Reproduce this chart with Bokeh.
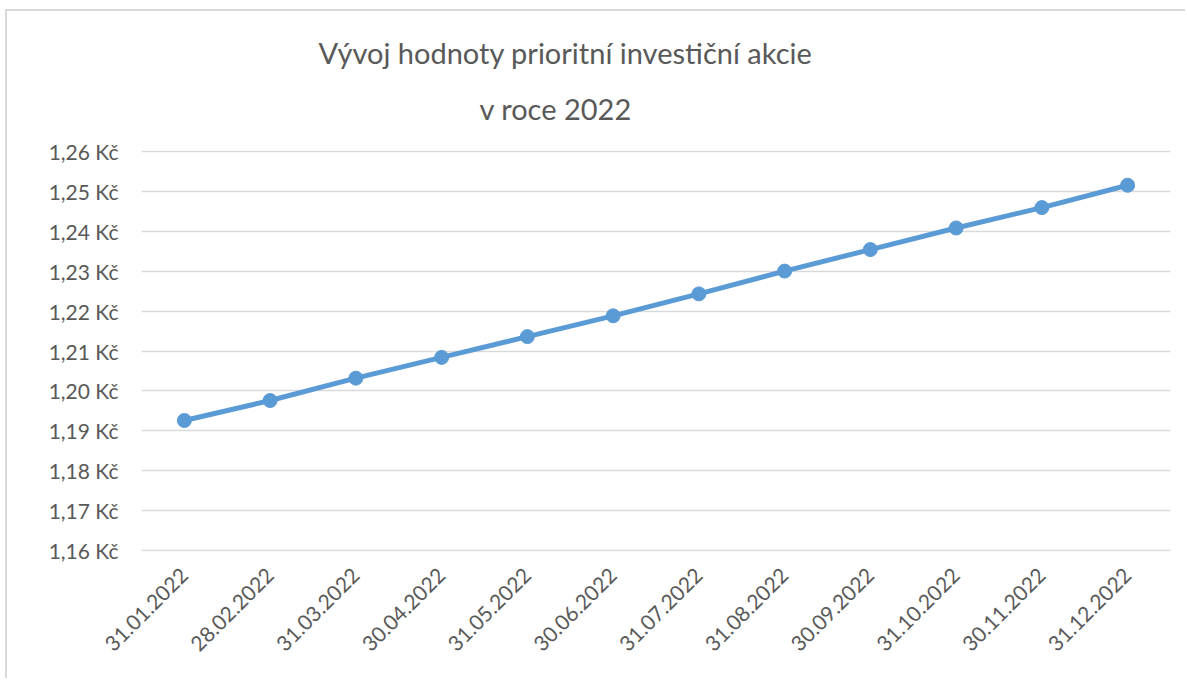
from bokeh.plotting import figure
from bokeh.models import FixedTicker, CustomJSTickFormatter, Title, ColumnDataSource
from bokeh.embed import file_html
from bokeh.resources import INLINE
import math

dates = ["31.01.2022", "28.02.2022", "31.03.2022", "30.04.2022", "31.05.2022", "30.06.2022",
         "31.07.2022", "31.08.2022", "30.09.2022", "31.10.2022", "30.11.2022", "31.12.2022"]
prices = [1.1926, 1.1976, 1.2032, 1.2084, 1.2136, 1.2188,
          1.2243, 1.2300, 1.2354, 1.2408, 1.2459, 1.2515]
y_ticks = [1.16, 1.17, 1.18, 1.19, 1.20, 1.21, 1.22, 1.23, 1.24, 1.25, 1.26]
title_lines = ["Vývoj hodnoty prioritní investiční akcie", "v roce 2022"]

FONT = "Lato"
GREY = "#595959"

src = ColumnDataSource(dict(x=dates, y=prices))

p = figure(x_range=dates, y_range=(1.1598, 1.2602), width=1180, height=669,
           output_backend="svg", toolbar_location=None,
           min_border_left=134, min_border_right=17, min_border_top=139, min_border_bottom=129)
p.styles = {"border-top": "2px solid #d9d9d9", "border-left": "2px solid #d9d9d9",
            "margin-top": "9px", "margin-left": "5px"}
p.outline_line_color = None
p.background_fill_color = "white"
p.title = None

p.line("x", "y", source=src, line_color="#5b9bd5", line_width=5)
p.scatter("x", "y", source=src, size=14, fill_color="#5b9bd5", line_color="#5b9bd5")

p.yaxis.ticker = FixedTicker(ticks=y_ticks)
p.yaxis.formatter = CustomJSTickFormatter(code="return tick.toFixed(2).replace('.', ',') + ' Kč';")
for ax in (p.xaxis, p.yaxis):
    ax.axis_line_color = None
    ax.major_tick_line_color = None
    ax.minor_tick_line_color = None
    ax.major_label_text_color = GREY
    ax.major_label_text_font = FONT
    ax.major_label_text_font_size = "21px"
p.yaxis.major_label_standoff = 17
p.xaxis.major_label_orientation = math.pi / 4
p.xaxis.major_label_standoff = 14

p.xgrid.grid_line_color = None
p.ygrid.grid_line_color = "#d9d9d9"
p.ygrid.grid_line_width = 1.5

t2 = Title(text=title_lines[1], align="left", offset=338, text_font=FONT, text_font_size="29px",
           text_font_style="normal", text_color=GREY, standoff=50)
t1 = Title(text=title_lines[0], align="left", offset=177, text_font=FONT, text_font_size="29px",
           text_font_style="normal", text_color=GREY, standoff=-12)
p.add_layout(t2, "above")
p.add_layout(t1, "above")

open("out.html", "w").write(file_html(p, INLINE))
